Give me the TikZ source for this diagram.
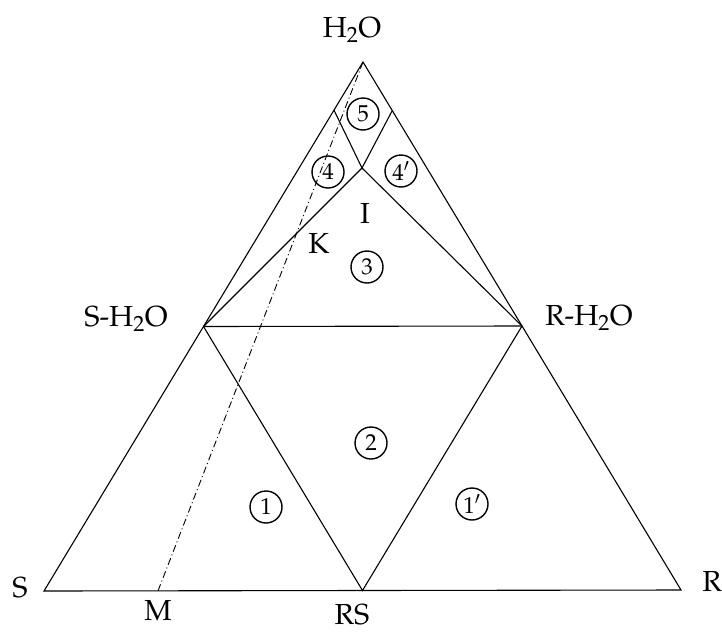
\documentclass[tikz,border=0pt]{standalone}
\usepackage[T1]{fontenc}
\usepackage{mathpazo}
\usepackage{tikz}
\usetikzlibrary{positioning,calc}
\tikzset{
  plin/.style={line width=1.1pt,black},
  tie/.style ={line width=0.9pt,black,dash pattern=on 7pt off 3pt on 1pt off 3pt},
  lbl/.style ={font=\fontsize{29}{32}\selectfont,inner sep=0pt,anchor=base},
  reg/.style ={circle,draw,line width=1.4pt,inner sep=0pt,minimum size=32pt,
               font=\fontsize{23}{26}\selectfont},
}

\begin{document}
\begin{tikzpicture}[x=1pt,y=-1pt]
    \useasboundingbox (0,0) rectangle (722,632);
    % corners and mid points of the triangle
    \coordinate (w)  at (363,62);
    \coordinate (s)  at (44,591);
    \coordinate (r)  at (681,590);
    \coordinate (sw) at ($(s)!0.5!(w)$);
    \coordinate (rw) at ($(r)!0.5!(w)$);
    \coordinate (rs) at ($(s)!0.5!(r)$);
    \coordinate (i)  at (362,168);
    \coordinate (wl) at ($(w)!0.091!(s)$);
    \coordinate (wr) at ($(w)!0.092!(r)$);
    \coordinate (m)  at ($(s)!0.179!(r)$);
    \draw[plin] (s) -- (r) -- (w) -- cycle;
    \draw[plin] (sw) -- (rw);
    \draw[plin] (sw) -- (rs) -- (rw);
    \draw[plin] (sw) -- (i) -- (rw);
    \draw[plin] (wl) -- (i) -- (wr);
    \draw[tie] (m) -- (w);   % tie line through K
    % labels
    \node[lbl] (lw)  at (352,37)  {H$_2$O};
    \node[lbl] (lsw) at (126,326) {S-H$_2$O};
    \node[lbl] (lrw) at (589,325) {R-H$_2$O};
    \node[lbl] (ls)  at (20,597)  {S};
    \node[lbl] (lr)  at (712,591) {R};
    \node[lbl] (lm)  at (158,620) {M};
    \node[lbl] (lrs) at (352,624) {RS};
    \node[lbl] (li)  at (365,223) {I};
    \node[lbl] (lk)  at (319,253) {K};
    % regions
    \node[reg] (r5)  at (363,114) {5};
    \node[reg] (r4)  at (328,172) {4};
    \node[reg] (r4p) at (401,171) {4$'$};
    \node[reg] (r3)  at (367,267) {3};
    \node[reg] (r2)  at (371,443) {2};
    \node[reg] (r1)  at (266,507) {1};
    \node[reg] (r1p) at (472,504) {1$'$};
\end{tikzpicture}
\end{document}
